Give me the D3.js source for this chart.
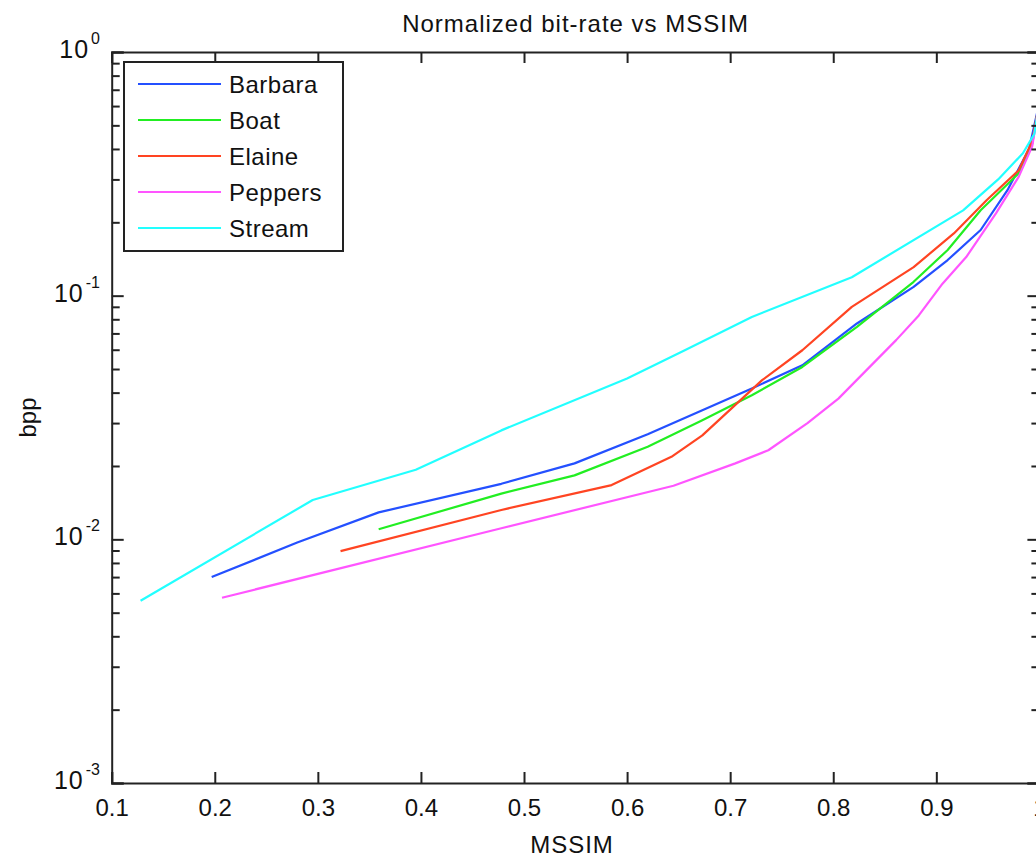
<!DOCTYPE html>
<html>
<head>
<meta charset="utf-8">
<script src="https://cdn.jsdelivr.net/npm/d3@7"></script>
<style>
  html, body { margin: 0; padding: 0; background: #fff; overflow: hidden; }
  svg { display: block; }
  text { font-family: "Liberation Sans", Arial, sans-serif; fill: #111; }
</style>
</head>
<body>
<svg id="chart" width="1036" height="858"></svg>
<script>
// ---- Data ----
const seriesNames = ["Barbara", "Boat", "Elaine", "Peppers", "Stream"];
const seriesColors = ["#2450ff", "#22ee22", "#ff4422", "#ff55ff", "#22ffff"];

const barbaraX = [0.197, 0.28, 0.359, 0.478, 0.549, 0.62, 0.673, 0.721, 0.770, 0.823, 0.878, 0.911, 0.943, 0.969, 0.99, 1.0];
const barbaraY = [0.0070, 0.0097, 0.0129, 0.0169, 0.0205, 0.027, 0.0339, 0.0416, 0.0518, 0.0769, 0.1087, 0.14, 0.186, 0.271, 0.40, 0.62];

const boatX = [0.359, 0.478, 0.549, 0.62, 0.673, 0.721, 0.770, 0.823, 0.878, 0.911, 0.943, 0.98, 0.993, 1.0];
const boatY = [0.011, 0.0154, 0.0183, 0.024, 0.0308, 0.039, 0.051, 0.0744, 0.114, 0.154, 0.224, 0.318, 0.42, 0.62];

const elaineX = [0.322, 0.478, 0.585, 0.643, 0.673, 0.731, 0.770, 0.818, 0.878, 0.917, 0.949, 0.98, 0.993, 1.0];
const elaineY = [0.00895, 0.0132, 0.0167, 0.0218, 0.0267, 0.045, 0.0597, 0.09, 0.131, 0.18, 0.247, 0.327, 0.43, 0.62];

const peppersX = [0.207, 0.478, 0.645, 0.705, 0.737, 0.775, 0.805, 0.861, 0.883, 0.906, 0.929, 0.958, 0.98, 0.993, 1.0];
const peppersY = [0.00576, 0.0111, 0.0166, 0.0205, 0.0232, 0.0300, 0.0378, 0.0657, 0.083, 0.112, 0.144, 0.218, 0.308, 0.41, 0.62];

const streamX = [0.128, 0.295, 0.395, 0.478, 0.6, 0.656, 0.721, 0.818, 0.926, 0.96, 0.984, 0.995, 1.0];
const streamY = [0.0056, 0.0145, 0.0193, 0.028, 0.0457, 0.0597, 0.0818, 0.119, 0.224, 0.3, 0.384, 0.46, 0.62];

const xTicks = [0.1, 0.2, 0.3, 0.4, 0.5, 0.6, 0.7, 0.8, 0.9, 1];
const xTickLabels = ["0.1", "0.2", "0.3", "0.4", "0.5", "0.6", "0.7", "0.8", "0.9", "1"];
const yTicks = [1e-3, 1e-2, 1e-1, 1];
const yTickExponents = ["-3", "-2", "-1", "0"];

const titleText = "Normalized bit-rate vs MSSIM";
const xLabelText = "MSSIM";
const yLabelText = "bpp";

// ---- Layout ----
const mLeft = 111.7, mRight = 1039.4, mTop = 52, mBottom = 783;
const svg = d3.select("#chart");

const x = d3.scaleLinear().domain([0.1, 1]).range([mLeft, mRight]);
const y = d3.scaleLog().domain([1e-3, 1]).range([mBottom, mTop]);

const seriesX = [barbaraX, boatX, elaineX, peppersX, streamX];
const seriesY = [barbaraY, boatY, elaineY, peppersY, streamY];
const series = seriesNames.map((n, i) => ({
  name: n, color: seriesColors[i],
  pts: seriesX[i].map((v, j) => [v, seriesY[i][j]])
}));

svg.append("defs").append("clipPath").attr("id", "clip")
  .append("rect").attr("x", mLeft).attr("y", mTop).attr("width", mRight - mLeft).attr("height", mBottom - mTop);

// Lines
const line = d3.line().x(d => x(d[0])).y(d => y(d[1]));
svg.append("g").attr("clip-path", "url(#clip)")
  .selectAll("path").data(series).enter().append("path")
  .attr("d", d => line(d.pts))
  .attr("fill", "none")
  .attr("stroke", d => d.color)
  .attr("stroke-width", 2.2)
  .attr("stroke-linejoin", "round");

// Minor y ticks values
const minorY = [];
for (let e = -3; e < 0; e++) {
  for (let k = 2; k <= 9; k++) minorY.push(k * Math.pow(10, e));
}

const axisColor = "#222";
const axG = svg.append("g");

const bottomAxis = d3.axisBottom(x).tickValues(xTicks).tickSize(-11).tickFormat((d, i) => xTickLabels[i]).tickPadding(16);
const gb = axG.append("g").attr("transform", `translate(0,${mBottom})`).call(bottomAxis);
const topAxis = d3.axisTop(x).tickValues(xTicks).tickSize(-11).tickFormat("");
const gt = axG.append("g").attr("transform", `translate(0,${mTop})`).call(topAxis);
const leftAxis = d3.axisLeft(y).tickValues(yTicks).tickSize(-12).tickFormat("");
const gl = axG.append("g").attr("transform", `translate(${mLeft},0)`).call(leftAxis);
const leftMinor = d3.axisLeft(y).tickValues(minorY).tickSize(-8).tickFormat("");
const glm = axG.append("g").attr("transform", `translate(${mLeft},0)`).call(leftMinor);
const rightAxis = d3.axisRight(y).tickValues(yTicks).tickSize(-12).tickFormat("");
const gr = axG.append("g").attr("transform", `translate(${mRight},0)`).call(rightAxis);
const rightMinor = d3.axisRight(y).tickValues(minorY).tickSize(-8).tickFormat("");
const grm = axG.append("g").attr("transform", `translate(${mRight},0)`).call(rightMinor);

[gb, gt, gl, glm, gr, grm].forEach(g => {
  g.select(".domain").attr("stroke", axisColor).attr("stroke-width", 2);
  g.selectAll(".tick line").attr("stroke", axisColor).attr("stroke-width", 2);
});
glm.select(".domain").remove();
grm.select(".domain").remove();

gb.selectAll(".tick text")
  .attr("font-size", 24)
  .attr("fill", "#111")
  .style("font-family", "'Liberation Sans', Arial, sans-serif");

// Y tick labels (10^e)
yTicks.forEach((v, i) => {
  const t = svg.append("text")
    .attr("x", 100).attr("y", y(v) + 6)
    .attr("text-anchor", "end")
    .attr("font-size", 25);
  t.append("tspan").attr("letter-spacing", 1).text("10");
  t.append("tspan").attr("font-size", 16).attr("dx", 2).attr("dy", -14).text(yTickExponents[i]);
});

// Title & axis labels
svg.append("text").attr("x", (mLeft + mRight) / 2).attr("y", 32)
  .attr("text-anchor", "middle").attr("font-size", 24).attr("letter-spacing", 1).text(titleText);
svg.append("text").attr("x", 572).attr("y", 853)
  .attr("text-anchor", "middle").attr("font-size", 24).attr("letter-spacing", 1).text(xLabelText);
svg.append("text").attr("transform", `translate(36,${(mTop + mBottom) / 2}) rotate(-90)`)
  .attr("text-anchor", "middle").attr("font-size", 24).text(yLabelText);

// Legend
const lg = svg.append("g");
lg.append("rect").attr("x", 124).attr("y", 62).attr("width", 219).attr("height", 189)
  .attr("fill", "#fff").attr("stroke", axisColor).attr("stroke-width", 2);
series.forEach((s, i) => {
  const yy = 84 + i * 36;
  lg.append("line").attr("x1", 138).attr("x2", 221).attr("y1", yy).attr("y2", yy)
    .attr("stroke", s.color).attr("stroke-width", 2.2);
  lg.append("text").attr("x", 229).attr("y", yy + 9).attr("font-size", 24)
    .attr("letter-spacing", 0.5).text(s.name);
});
</script>
</body>
</html>
